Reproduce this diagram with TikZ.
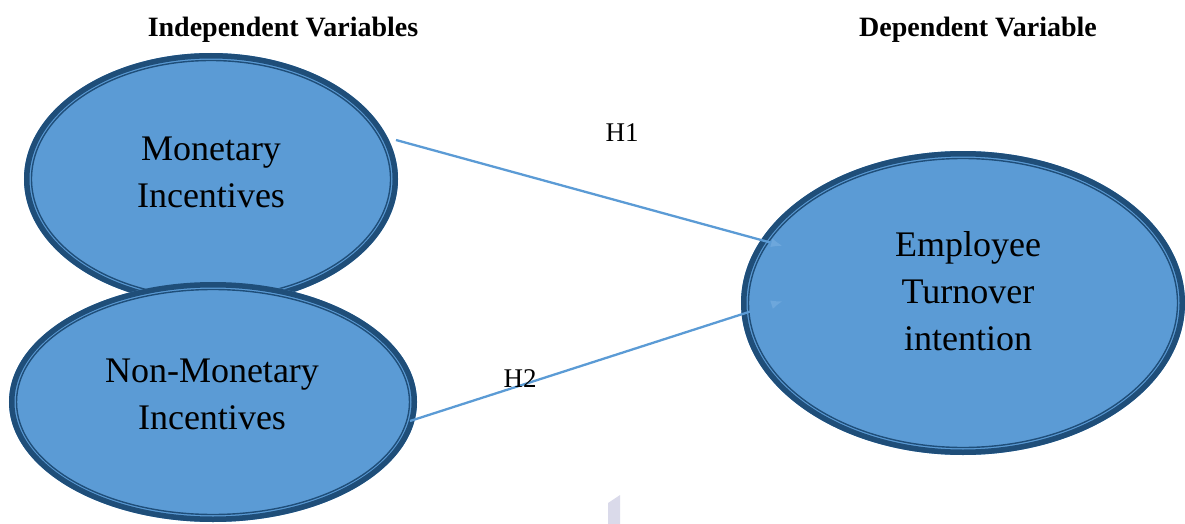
\documentclass[tikz,border=0pt]{standalone}
\usepackage{fontspec}
\setmainfont{Liberation Serif}
\usetikzlibrary{shapes.geometric,arrows.meta}
\definecolor{bfill}{HTML}{5B9BD5}
\definecolor{bdark}{HTML}{1F4E79}
\definecolor{tipc}{HTML}{6DA7DC}
\definecolor{wedge}{HTML}{DADAEA}
\tikzset{
  bubble/.style={ellipse, fill=bfill, inner sep=0pt, outer sep=0pt},
  ringthick/.style={draw=bdark, line width=5.5pt},
  ringthin/.style={draw=bdark, line width=1.4pt},
  btext/.style={align=center, font=\fontsize{36}{47}\selectfont, inner sep=0pt},
  htext/.style={font=\bfseries\fontsize{28}{32}\selectfont, anchor=base, inner sep=0pt},
  hlabel/.style={font=\fontsize{27}{30}\selectfont, inner sep=0pt},
  link/.style={draw=bfill, line width=2.3pt, -{Latex[length=12pt,width=9pt,color=tipc]}}
}
\newcommand{\ringpair}[3]{% center, rx, ry
  \draw[ringthick] (#1) ellipse [x radius=#2pt-2.75pt, y radius=#3pt-2.75pt];
  \draw[ringthin] (#1) ellipse [x radius=#2pt-7.5pt, y radius=#3pt-7.5pt];
}
\begin{document}
\begin{tikzpicture}[x=1pt,y=-1pt]
\useasboundingbox (0,0) rectangle (1185,524);

% Monetary
\node[bubble, minimum width=374pt, minimum height=252pt] (m) at (211,179) {};
\ringpair{m.center}{187}{126}
\node[btext] (mt) at (211,172) {Monetary\\Incentives};

% Non-Monetary
\node[bubble, minimum width=408pt, minimum height=240pt] (n) at (213,402) {};
\ringpair{n.center}{204}{120}
\node[btext] (nt) at (212,394) {Non-Monetary\\Incentives};

% Employee
\node[bubble, minimum width=444pt, minimum height=304pt] (e) at (963,303) {};
\ringpair{e.center}{222}{152}
\node[btext] (et) at (968,291) {Employee\\Turnover\\intention};

% headers
\node[htext] (hi) at (283,37) {Independent Variables};
\node[htext] (hd) at (978,37) {Dependent Variable};

% connectors
\coordinate (h1s) at (396,140);
\coordinate (h1e) at (783,246);
\coordinate (h2s) at (410,421);
\coordinate (h2e) at (783,301);
\draw[link] (h1s) -- (h1e);
\draw[link] (h2s) -- (h2e);

\node[hlabel] (l1) at (622,133) {H1};
\node[hlabel] (l2) at (520,379) {H2};

% faint artefact
\fill[wedge] (608,503) -- (620,495) -- (620,524) -- (608,524) -- cycle;
\end{tikzpicture}
\end{document}
